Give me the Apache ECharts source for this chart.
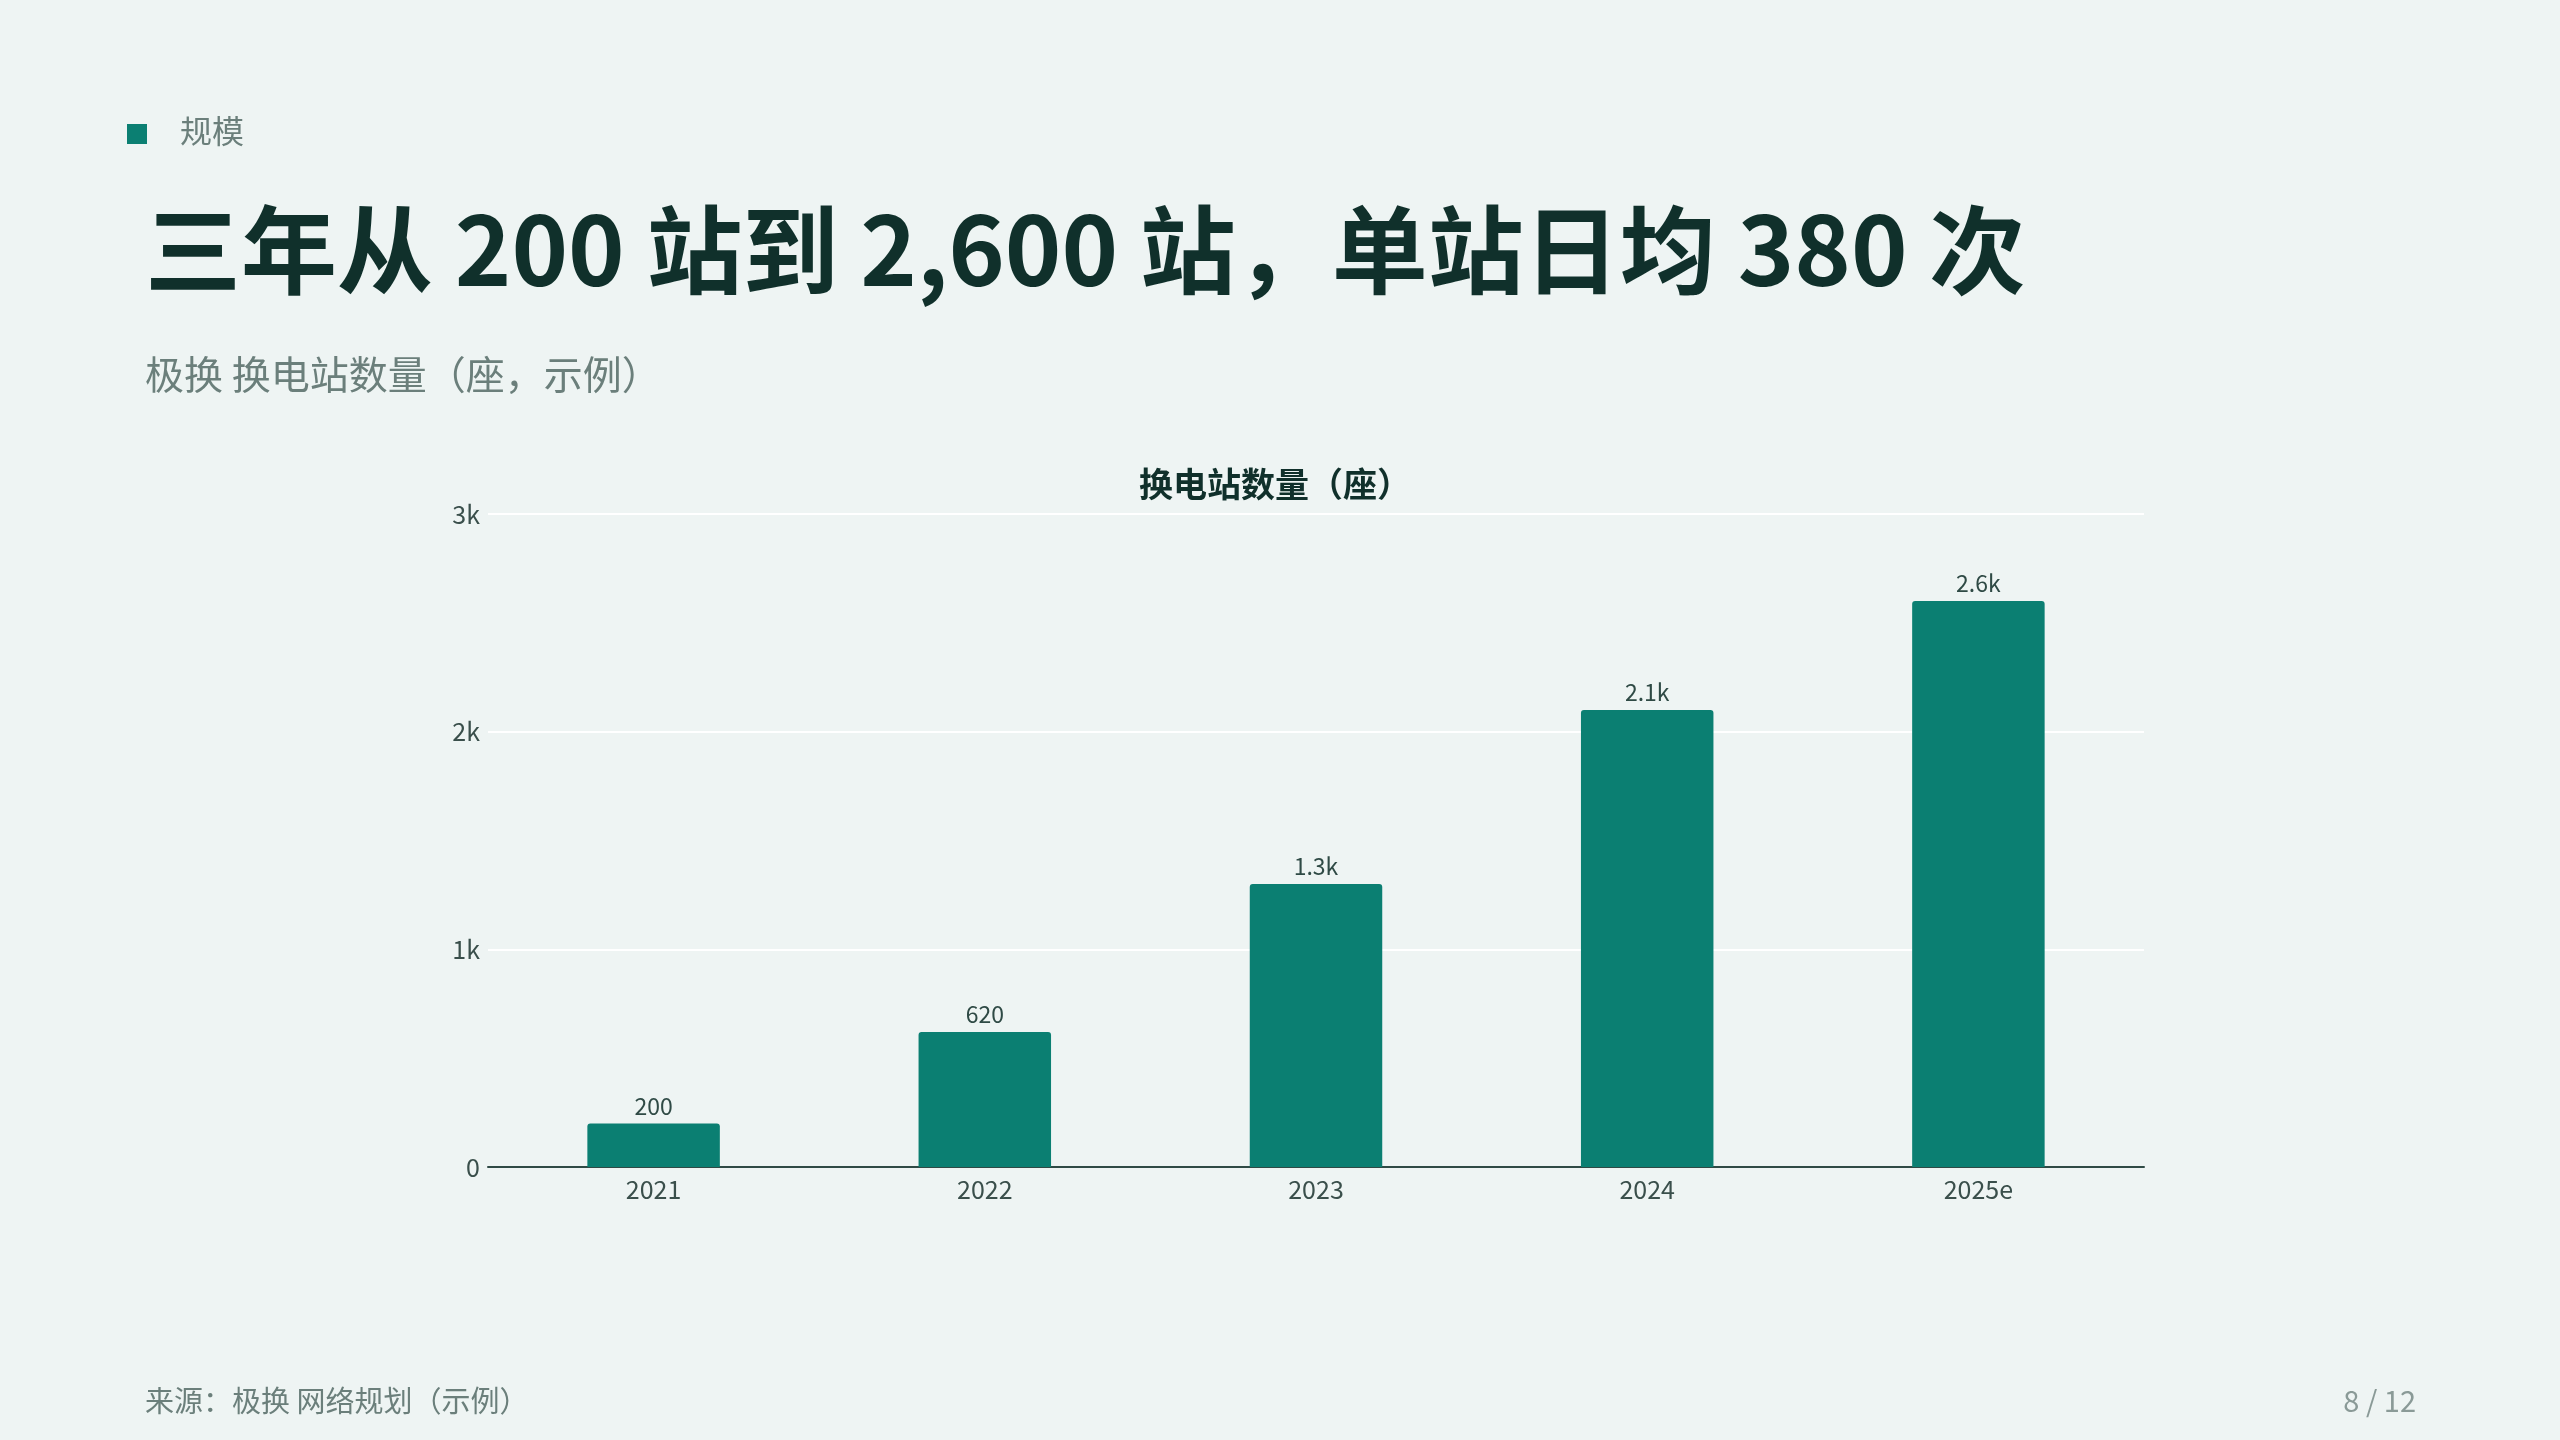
<!DOCTYPE html>
<html><head><meta charset="utf-8">
<script src="https://cdn.jsdelivr.net/npm/echarts@6/dist/echarts.min.js"></script>
<style>html,body{margin:0;padding:0;background:#eef4f3;}#c{width:2560px;height:1440px;}</style>
</head><body><div id="c"></div>
<script>
const categories = ['2021','2022','2023','2024','2025e'];
const stations = [200, 620, 1300, 2100, 2600];
const yTicks = [0, 1000, 2000, 3000];
const F = '"Noto Sans CJK SC","Noto Sans",sans-serif';
const fmt = v => v >= 1000 ? (v/1000) + 'k' : String(v);
const chart = echarts.init(document.getElementById('c'));
chart.setOption({
  backgroundColor: '#eef4f3',
  textStyle: {fontFamily: F},
  title: {text: '换电站数量（座）', left: 1270, top: 462, textAlign: 'center',
    textStyle: {fontFamily: F, fontSize: 34, fontWeight: 'bold', color: '#10302b'}},
  grid: {left: 488, right: 416, top: 514, bottom: 273},
  xAxis: {type: 'category', data: categories,
    axisLine: {lineStyle: {color: '#2f4a45', width: 2}}, axisTick: {show: false},
    axisLabel: {fontFamily: F, fontSize: 25, color: '#3a4f4b', margin: 10}},
  yAxis: {type: 'value', min: yTicks[0], max: yTicks[yTicks.length-1], interval: 1000,
    axisLine: {show: false}, axisTick: {show: false},
    splitLine: {lineStyle: {color: '#ffffff', width: 2}},
    axisLabel: {fontFamily: F, fontSize: 25, color: '#3a4f4b', formatter: fmt, margin: 8}},
  series: [{type: 'bar', data: stations, barWidth: '40%',
    itemStyle: {color: '#0b7f72', borderRadius: [3,3,0,0]},
    label: {show: true, position: 'top', distance: 6, fontFamily: F, fontSize: 23, color: '#2f4a45',
      formatter: p => fmt(p.value)}}],
  graphic: [
    {type: 'rect', shape: {x: 127, y: 124, width: 20, height: 20}, style: {fill: '#0b7f72'}},
    {type: 'text', x: 180, y: 131, style: {text: '规模', fontFamily: F, fontSize: 32, fill: '#6b7f7b', verticalAlign: 'middle'}},
    {type: 'text', x: 145, y: 250, style: {text: '三年从 200 站到 2,600 站，单站日均 380 次', fontFamily: F, fontSize: 96, fontWeight: 'bold', fill: '#10302b', verticalAlign: 'middle'}},
    {type: 'text', x: 145, y: 374, style: {text: '极换 换电站数量（座，示例）', fontFamily: F, fontSize: 39, fill: '#6b7f7b', verticalAlign: 'middle'}},
    {type: 'text', x: 145, y: 1401, style: {text: '来源：极换 网络规划（示例）', fontFamily: F, fontSize: 29, fill: '#6b7f7b', verticalAlign: 'middle'}},
    {type: 'text', x: 2416, y: 1401, style: {text: '8 / 12', fontFamily: F, fontSize: 29, fill: '#8a9a97', align: 'right', verticalAlign: 'middle'}}
  ]
});
</script></body></html>
